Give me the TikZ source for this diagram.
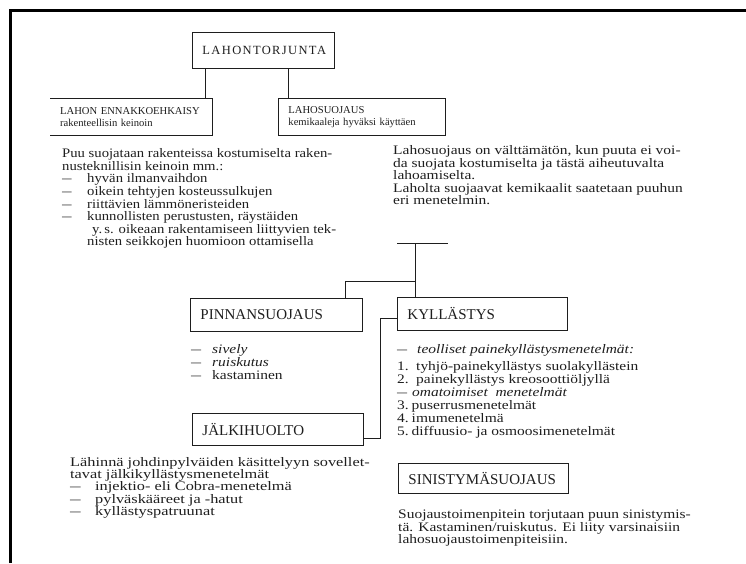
\documentclass[tikz,border=0pt]{standalone}
\usepackage{fontspec}
\setmainfont{Liberation Serif}
\newfontfamily\bodyfont[FakeStretch=1.19]{Liberation Serif}
\newfontfamily\bodyfontL[FakeStretch=1.13]{Liberation Serif}
\newfontfamily\bodyfontJ[FakeStretch=1.255]{Liberation Serif}
\newfontfamily\spacedfont[LetterSpace=11]{Liberation Serif}
\newcommand\dashit[1]{\makebox[#1][l]{\scalebox{0.65}[1]{—}}}
\newcommand\numit[2]{\makebox[#1][l]{#2}}
\definecolor{ink}{RGB}{30,30,30}
\begin{document}
\begin{tikzpicture}[x=1pt,y=-1pt,
  hbox/.style={draw=ink, line width=0.9pt, anchor=north west, inner ysep=0pt, inner xsep=10pt, align=left,
     font=\fontsize{15}{16}\selectfont, text=ink},
  sbox/.style={anchor=north west, inner ysep=0pt, inner xsep=10pt, align=left,
     font=\fontsize{10.6}{12}\selectfont, text=ink},
  txt/.style={anchor=north west, inner sep=0pt, align=left, text=ink},
  conn/.style={draw=ink, line width=0.9pt}]
\useasboundingbox (0,0) rectangle (746,563);
\draw[line width=2.6pt, black] (10.3,563) -- (10.3,10.3) -- (746,10.3);

% boxes
\node[hbox, minimum width=142pt, text width=122pt, minimum height=36pt, align=center,
      font=\fontsize{12.5}{13}\spacedfont] (top) at (192,32) {LAHONTORJUNTA};
\node[sbox, minimum width=162pt, text width=142pt, minimum height=37pt] (ennak) at (50,98)
  {\hyphenpenalty=10000 LAHON ENNAKKOEHKAISY\\rakenteellisin keinoin};
\draw[conn] (ennak.north west) -- (ennak.north east) -- (ennak.south east) -- (ennak.south west);
\node[sbox, draw=ink, line width=0.9pt, minimum width=167pt, text width=147pt, minimum height=37pt] (lahos) at (278,98)
  {LAHOSUOJAUS\\kemikaaleja hyväksi käyttäen};
\node[hbox, minimum width=172pt, text width=152pt, minimum height=33pt] (pinn) at (190,298) {PINNANSUOJAUS};
\node[hbox, minimum width=170pt, text width=150pt, minimum height=33pt] (kyll) at (397,297) {KYLLÄSTYS};
\node[hbox, minimum width=171pt, text width=151pt, minimum height=32pt] (jalk) at (192,413) {JÄLKIHUOLTO};
\node[hbox, minimum width=170pt, text width=150pt, minimum height=30pt] (sinis) at (398,463) {SINISTYMÄSUOJAUS};

% connectors
\draw[conn] ([xshift=13pt]top.south west) -- ([xshift=13pt]top.south west |- ennak.north);
\draw[conn] ([xshift=96pt]top.south west) -- ([xshift=96pt]top.south west |- lahos.north);
\coordinate (tleft) at (397,243);
\coordinate (tmid) at (415,243);
\coordinate (tright) at (448,243);
\coordinate (branch) at (415,281);
\draw[conn] (tleft) -- (tright);
\draw[conn] (tmid) -- (tmid |- kyll.north);
\draw[conn] (branch) -| ([xshift=155pt]pinn.north west);
\draw[conn] ([yshift=-21pt]kyll.north west) -- ++(-17,0) |- ([yshift=7pt]jalk.south east);

% texts
\node[txt, font=\fontsize{13}{12.6}\bodyfontL] (ltext) at (62,148.5) {%
Puu suojataan rakenteissa kostumiselta raken-\\
nusteknillisin keinoin mm.:\\
\dashit{25pt}hyvän ilmanvaihdon\\
\dashit{25pt}oikein tehtyjen kosteussulkujen\\
\dashit{25pt}riittävien lämmöneristeiden\\
\dashit{25pt}kunnollisten perustusten, räystäiden\\
\hspace*{30pt}y.\,s. oikeaan rakentamiseen liittyvien tek-\\
\hspace*{25pt}nisten seikkojen huomioon ottamisella};

\node[txt, font=\fontsize{13}{12.5}\bodyfont] (rtext) at (393,145.5) {%
Lahosuojaus on välttämätön, kun puuta ei voi-\\
da suojata kostumiselta ja tästä aiheutuvalta\\
lahoamiselta.\\
Laholta suojaavat kemikaalit saatetaan puuhun\\
eri menetelmin.};

\node[txt, font=\fontsize{13}{12.8}\bodyfont] (ptext) at (191,344.5) {%
\dashit{21pt}\textit{sively}\\
\dashit{21pt}\textit{ruiskutus}\\
\dashit{21pt}kastaminen};

\node[txt, font=\fontsize{13}{13}\bodyfont] (ktext) at (397,344.5) {%
\dashit{20pt}\textit{teolliset painekyllästysmenetelmät:}\\[4pt]
\numit{19pt}{1.}tyhjö-painekyllästys suolakyllästein\\
\numit{19pt}{2.}painekyllästys kreosoottiöljyllä\\
\dashit{15pt}\textit{omatoimiset\ \ menetelmät}\\
\numit{14.5pt}{3.}puserrusmenetelmät\\
\numit{14.5pt}{4.}imumenetelmä\\
\numit{14.5pt}{5.}diffuusio- ja osmoosimenetelmät};

\node[txt, font=\fontsize{13}{12.3}\bodyfontJ] (jtext) at (70,457) {%
Lähinnä johdinpylväiden käsittelyyn sovellet-\\
tavat jälkikyllästysmenetelmät\\
\dashit{25pt}injektio- eli Cobra-menetelmä\\
\dashit{25pt}pylväskääreet ja -hatut\\
\dashit{25pt}kyllästyspatruunat};

\node[txt, font=\fontsize{13}{12.2}\bodyfont] (stext) at (398,510) {%
Suojaustoimenpitein torjutaan puun sinistymis-\\
tä. Kastaminen/ruiskutus. Ei liity varsinaisiin\\
lahosuojaustoimenpiteisiin.};
\end{tikzpicture}
\end{document}
